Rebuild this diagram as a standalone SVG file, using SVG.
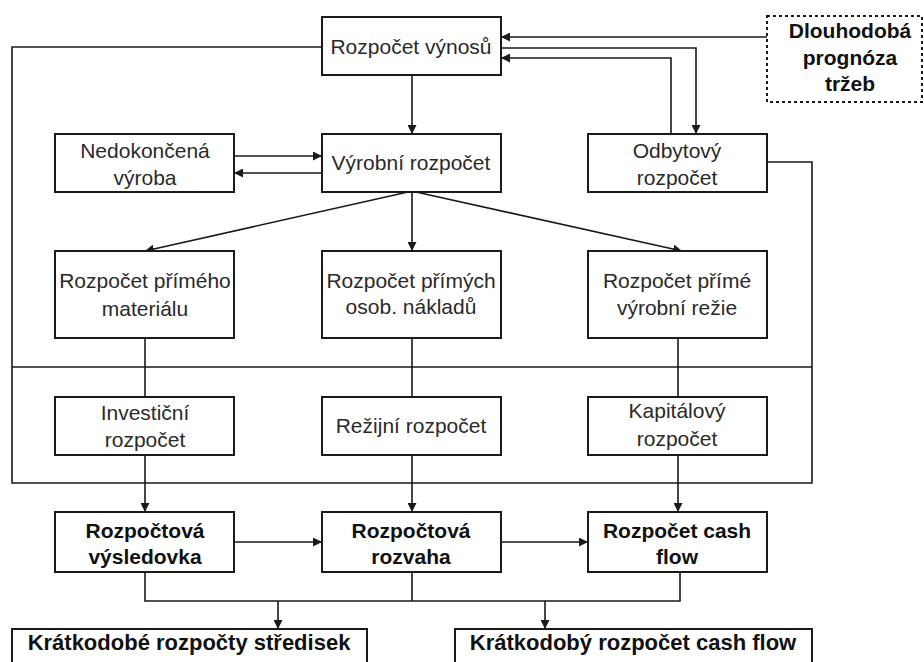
<svg xmlns="http://www.w3.org/2000/svg" width="924" height="662" viewBox="0 0 924 662">
<style>
.bx{fill:#fff;stroke:#1a1a1a;stroke-width:2}
.dash{fill:#fff;stroke:#1a1a1a;stroke-width:2;stroke-dasharray:3 3}
.t{font-family:"Liberation Sans",Arial,sans-serif;font-size:21px;fill:#2a2a2a;text-anchor:middle}
.b{font-family:"Liberation Sans",Arial,sans-serif;font-size:21px;font-weight:bold;fill:#111;text-anchor:middle}
.bb{font-size:22px}
.ln{fill:none;stroke:#1a1a1a;stroke-width:1.6}
</style>
<defs>
<marker id="ar" viewBox="0 0 10 10" refX="10" refY="5" markerWidth="9" markerHeight="9" markerUnits="userSpaceOnUse" orient="auto">
<path d="M0,0 L10,5 L0,10 z" fill="#1a1a1a"/>
</marker>
</defs>
<rect width="924" height="662" fill="#fff"/>
<g id="connectors">
<path class="ln" d="M322,47 H12 V483 H812 V162 H767"/>
<path class="ln" d="M12,367 H812"/>
<path class="ln" d="M412,75 V134" marker-end="url(#ar)"/>
<path class="ln" d="M767,37 H501" marker-end="url(#ar)"/>
<path class="ln" d="M501,48 H696 V134" marker-end="url(#ar)"/>
<path class="ln" d="M671,134 V58 H501" marker-end="url(#ar)"/>
<path class="ln" d="M234,156 H322" marker-end="url(#ar)"/>
<path class="ln" d="M322,173 H234" marker-end="url(#ar)"/>
<path class="ln" d="M408,192 L145,251" marker-end="url(#ar)"/>
<path class="ln" d="M412,192 V251" marker-end="url(#ar)"/>
<path class="ln" d="M416,192 L682,251" marker-end="url(#ar)"/>
<path class="ln" d="M145,338 V397"/>
<path class="ln" d="M412,338 V397"/>
<path class="ln" d="M678,338 V397"/>
<path class="ln" d="M145,455 V512" marker-end="url(#ar)"/>
<path class="ln" d="M412,455 V512" marker-end="url(#ar)"/>
<path class="ln" d="M678,455 V512" marker-end="url(#ar)"/>
<path class="ln" d="M234,542 H322" marker-end="url(#ar)"/>
<path class="ln" d="M501,542 H588" marker-end="url(#ar)"/>
<path class="ln" d="M145,572 V601 H680 V572"/>
<path class="ln" d="M412,572 V601"/>
<path class="ln" d="M278,601 V629" marker-end="url(#ar)"/>
<path class="ln" d="M545,601 V629" marker-end="url(#ar)"/>
</g>
<g id="rozpocet-vynosu"><rect class="bx" x="322" y="17" width="179" height="58"/><text class="t" x="411" y="54">Rozpočet výnosů</text></g>
<g id="dlouhodoba-prognoza"><rect class="dash" x="767" y="16" width="155" height="86"/><text class="b" x="850" y="38">Dlouhodobá</text><text class="b" x="850" y="65">prognóza</text><text class="b" x="850" y="91">tržeb</text></g>
<g id="nedokoncena-vyroba"><rect class="bx" x="55" y="134" width="179" height="58"/><text class="t" x="145" y="158">Nedokončená</text><text class="t" x="145" y="185">výroba</text></g>
<g id="vyrobni-rozpocet"><rect class="bx" x="322" y="134" width="179" height="58"/><text class="t" x="411" y="170">Výrobní rozpočet</text></g>
<g id="odbytovy-rozpocet"><rect class="bx" x="588" y="134" width="179" height="58"/><text class="t" x="677" y="158">Odbytový</text><text class="t" x="677" y="185">rozpočet</text></g>
<g id="rozpocet-primeho-materialu"><rect class="bx" x="55" y="251" width="179" height="87"/><text class="t" x="145" y="288">Rozpočet přímého</text><text class="t" x="145" y="316">materiálu</text></g>
<g id="rozpocet-primych-osob"><rect class="bx" x="322" y="251" width="179" height="87"/><text class="t" x="411" y="288">Rozpočet přímých</text><text class="t" x="411" y="314">osob. nákladů</text></g>
<g id="rozpocet-prime-rezie"><rect class="bx" x="588" y="251" width="179" height="87"/><text class="t" x="677" y="288">Rozpočet přímé</text><text class="t" x="677" y="315">výrobní režie</text></g>
<g id="investicni-rozpocet"><rect class="bx" x="55" y="397" width="179" height="58"/><text class="t" x="145" y="420">Investiční</text><text class="t" x="145" y="447">rozpočet</text></g>
<g id="rezijni-rozpocet"><rect class="bx" x="322" y="397" width="179" height="58"/><text class="t" x="411" y="433">Režijní rozpočet</text></g>
<g id="kapitalovy-rozpocet"><rect class="bx" x="588" y="397" width="179" height="58"/><text class="t" x="677" y="418">Kapitálový</text><text class="t" x="677" y="446">rozpočet</text></g>
<g id="rozpoctova-vysledovka"><rect class="bx" x="55" y="512" width="179" height="60"/><text class="b" x="145" y="538">Rozpočtová</text><text class="b" x="145" y="564">výsledovka</text></g>
<g id="rozpoctova-rozvaha"><rect class="bx" x="322" y="512" width="179" height="60"/><text class="b" x="411" y="538">Rozpočtová</text><text class="b" x="411" y="564">rozvaha</text></g>
<g id="rozpocet-cash-flow"><rect class="bx" x="588" y="512" width="179" height="60"/><text class="b" x="677" y="538">Rozpočet cash</text><text class="b" x="677" y="564">flow</text></g>
<g id="kratkodobe-rozpocty-stredisek"><rect class="bx" x="12" y="629" width="355" height="45"/><text class="b bb" x="189" y="650">Krátkodobé rozpočty středisek</text></g>
<g id="kratkodoby-rozpocet-cash-flow"><rect class="bx" x="455" y="629" width="357" height="45"/><text class="b bb" x="633" y="650">Krátkodobý rozpočet cash flow</text></g>
</svg>
